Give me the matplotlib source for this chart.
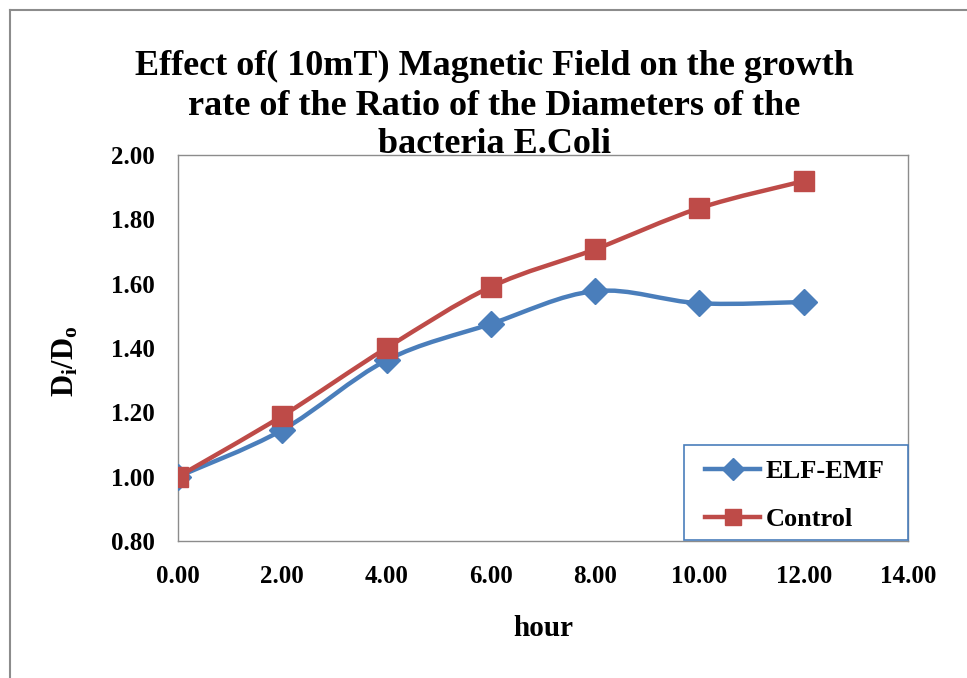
import numpy as np
import matplotlib as mpl
mpl.use('Agg')
import matplotlib.pyplot as plt
from matplotlib.path import Path
from matplotlib.patches import PathPatch, Rectangle
from matplotlib.lines import Line2D

# data
hours = [0, 2, 4, 6, 8, 10, 12]
elf_emf = [1.00, 1.145, 1.362, 1.475, 1.577, 1.539, 1.543]
control = [1.00, 1.189, 1.400, 1.590, 1.707, 1.835, 1.919]
x_ticks = [0, 2, 4, 6, 8, 10, 12, 14]
y_ticks = [0.8, 1.0, 1.2, 1.4, 1.6, 1.8, 2.0]

title_lines = ["Effect of( 10mT) Magnetic Field on the growth",
               "rate of the Ratio of the Diameters of the",
               "bacteria E.Coli"]

BLUE = '#4A7EBB'
RED = '#BE4B48'
GRAY = '#8C8C8C'

plt.rcParams['font.family'] = ['Liberation Serif', 'DejaVu Serif']
plt.rcParams['font.weight'] = 'bold'
plt.rcParams['mathtext.fontset'] = 'custom'
plt.rcParams['mathtext.rm'] = 'Liberation Serif:bold'
plt.rcParams['mathtext.bf'] = 'Liberation Serif:bold'
plt.rcParams['mathtext.it'] = 'Liberation Serif:bold'

W, H = 967, 678


def smooth_path(x, y):
    # excel-like smoothed line: cubic bezier through every point
    x = np.asarray(x, float)
    y = np.asarray(y, float)
    n = len(x)
    verts = [(x[0], y[0])]
    codes = [Path.MOVETO]
    for i in range(n - 1):
        x0, y0 = (x[i - 1], y[i - 1]) if i > 0 else (x[i], y[i])
        x3, y3 = (x[i + 2], y[i + 2]) if i + 2 < n else (x[i + 1], y[i + 1])
        c1 = (x[i] + (x[i + 1] - x0) / 6, y[i] + (y[i + 1] - y0) / 6)
        c2 = (x[i + 1] - (x3 - x[i]) / 6, y[i + 1] - (y3 - y[i]) / 6)
        verts += [c1, c2, (x[i + 1], y[i + 1])]
        codes += [Path.CURVE4] * 3
    return Path(verts, codes)


fig = plt.figure(figsize=(W / 100, H / 100), dpi=100)
ax = fig.add_axes([178 / W, 137 / H, 730 / W, 386 / H])

for xs, ys, col, mk, ms in [
    (hours, elf_emf, BLUE, 'D', 13.5),
    (hours, control, RED, 's', 15),
]:
    ax.add_patch(PathPatch(smooth_path(xs, ys), facecolor='none',
                           edgecolor=col, lw=3.2, capstyle='round', zorder=3))
    ax.plot(xs, ys, linestyle='none', marker=mk, ms=ms, color=col,
            markeredgecolor=col, zorder=4)

ax.set_xlim(0, 14)
ax.set_ylim(0.8, 2.0)
ax.set_xticks(x_ticks)
ax.set_yticks(y_ticks)
ax.set_xticklabels(['%.2f' % v for v in x_ticks])
ax.set_yticklabels(['%.2f' % v for v in y_ticks])
ax.tick_params(length=0, labelsize=18)
ax.tick_params(axis='x', pad=17)
ax.tick_params(axis='y', pad=17)
for s in ax.spines.values():
    s.set_color(GRAY)
    s.set_linewidth(1.0)

ax.set_xlabel('hour', fontsize=21, fontweight='bold', labelpad=20)
ax.set_ylabel(r'$\mathrm{D_i/D_o}$', fontsize=22)
ax.yaxis.set_label_coords(-0.133, 0.465)

# legend box drawn separately so its padding can match the original
ax.add_patch(Rectangle((684 / W, (H - 540) / H), 224 / W, 95 / H,
                       transform=fig.transFigure, facecolor='white',
                       edgecolor=BLUE, lw=1.2, zorder=5, clip_on=False))
handles = [
    Line2D([], [], color=BLUE, lw=3.2, marker='D', ms=11),
    Line2D([], [], color=RED, lw=3.2, marker='s', ms=12),
]
leg = ax.legend(handles, ['ELF-EMF', 'Control'], loc='upper left',
                bbox_to_anchor=(705 / W, (H - 460) / H), bbox_transform=fig.transFigure,
                prop={'size': 19, 'weight': 'bold'}, frameon=False,
                borderpad=0, labelspacing=0.92, handlelength=2.1, handletextpad=0.2,
                borderaxespad=0)
leg.set_zorder(6)

for line, base in zip(title_lines, [75, 115, 153]):
    fig.text(494 / W, (H - base) / H, line, ha='center', va='baseline',
             fontsize=26, fontweight='bold')

# outer chart border (left and top edges visible)
fig.add_artist(Line2D([10 / W, 10 / W], [0, (H - 10) / H], color=GRAY, lw=1.5,
                      transform=fig.transFigure))
fig.add_artist(Line2D([10 / W, 1], [(H - 10) / H, (H - 10) / H], color=GRAY, lw=1.5,
                      transform=fig.transFigure))

fig.savefig('out.png', dpi=100)
